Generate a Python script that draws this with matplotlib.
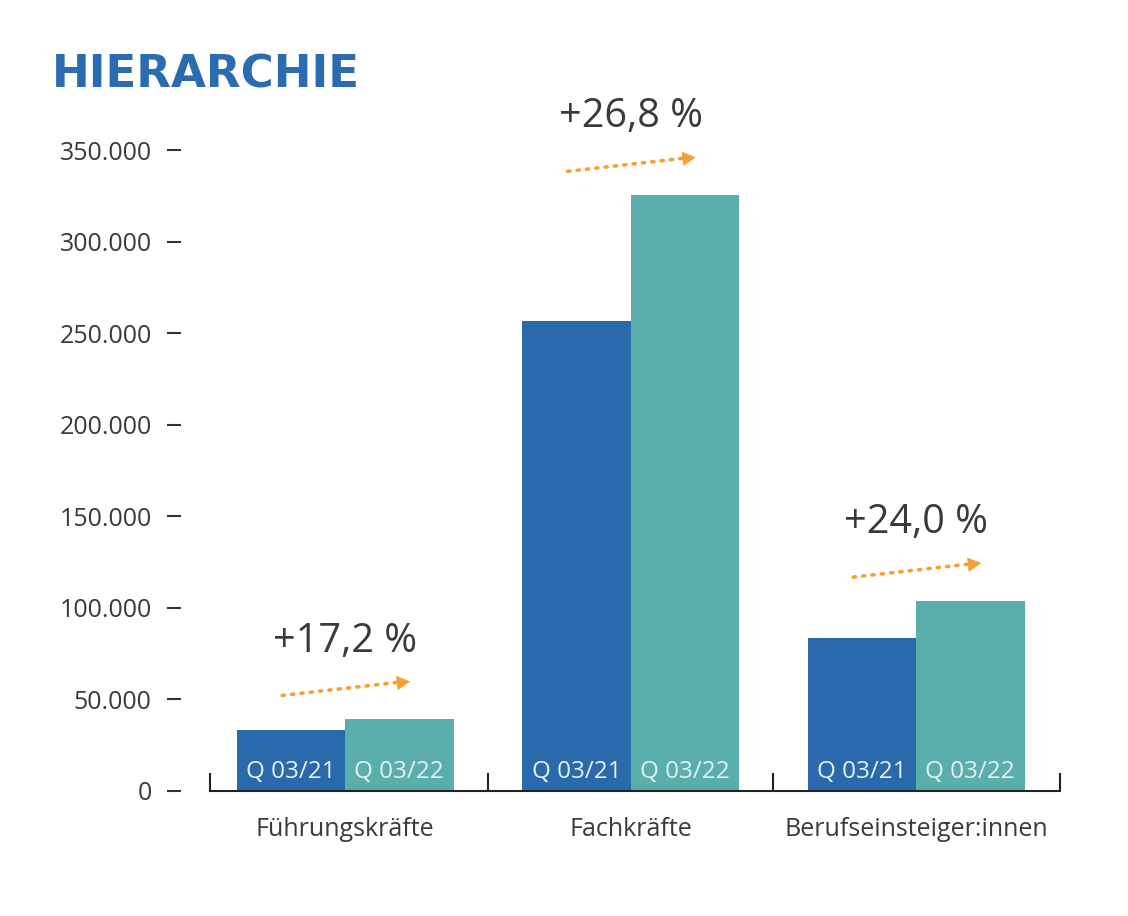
import matplotlib.pyplot as plt
import numpy as np
from matplotlib.ticker import FuncFormatter
from matplotlib.transforms import offset_copy

# data
categories = ['Führungskräfte', 'Fachkräfte', 'Berufseinsteiger:innen']
q21 = [33500, 256500, 83700]
q22 = [39300, 325500, 103900]
growth = ['+17,2 %', '+26,8 %', '+24,0 %']
series_labels = ['Q 03/21', 'Q 03/22']
yticks = [0, 50000, 100000, 150000, 200000, 250000, 300000, 350000]

blue = '#2a69ac'
teal = '#5aafac'
orange = '#f5a032'
dark = '#3a3a3a'

plt.rcParams['font.family'] = ['Open Sans', 'DejaVu Sans']

fig = plt.figure(figsize=(11.28, 9.16), dpi=100)
ax = fig.add_axes([210/1128, 1 - 791/916, 850/1128, (791 - 122.6)/916])

x = np.arange(len(categories))
w = 0.38
ax.bar(x - w/2, q21, width=w, color=blue)
ax.bar(x + w/2, q22, width=w, color=teal)

ax.set_xlim(-0.473, 2.504)
ax.set_ylim(0, 365000)

# series labels inside the bars
for i in range(len(categories)):
    for xx, lab in [(x[i] - w/2, series_labels[0]), (x[i] + w/2, series_labels[1])]:
        ax.annotate(lab, xy=(xx, 0), xytext=(0, 14), textcoords='offset points',
                    ha='center', va='center', fontsize=17.5, color='#e4f1f0')

# growth labels and dotted arrows
for i in range(len(categories)):
    top = q22[i]
    ax.annotate(growth[i], xy=(x[i], top), xytext=(0, 56), textcoords='offset points',
                ha='center', va='center', fontsize=28.5, color=dark, annotation_clip=False)
    tail_tr = offset_copy(ax.transData, fig=fig, x=0, y=17, units='points')
    head_tr = offset_copy(ax.transData, fig=fig, x=0, y=27, units='points')
    # dotted shaft
    ax.annotate('', xy=(x[i] + 0.21, top), xycoords=head_tr,
                xytext=(x[i] - 0.22, top), textcoords=tail_tr,
                arrowprops=dict(arrowstyle='-', linestyle=(0, (0.6, 2.0)), lw=2.6,
                                capstyle='round', color=orange, shrinkA=0, shrinkB=0),
                annotation_clip=False)
    # solid head
    ax.annotate('', xy=(x[i] + 0.228, top), xycoords=head_tr,
                xytext=(-7, -0.75), textcoords='offset points',
                arrowprops=dict(arrowstyle='-|>,head_length=0.55,head_width=0.3', lw=0.5,
                                color=orange, mutation_scale=16, shrinkA=0, shrinkB=0),
                annotation_clip=False)

# y axis: detached tick marks, no spine
ax.spines['left'].set_position(('outward', 21))
ax.spines['left'].set_visible(False)
ax.spines['top'].set_visible(False)
ax.spines['right'].set_visible(False)
ax.spines['bottom'].set_linewidth(1.5)
ax.spines['bottom'].set_color('#222222')
ax.set_yticks(yticks)
ax.yaxis.set_major_formatter(FuncFormatter(lambda v, p: f'{int(v):,}'.replace(',', '.')))
ax.tick_params(axis='y', direction='out', length=10, width=1.5, color='#333333',
               pad=11, labelsize=18, labelcolor=dark)

# x axis: boundary ticks pointing up, category labels as minor ticks
ax.set_xticks([-0.473, 0.5, 1.5, 2.504])
ax.set_xticklabels([])
ax.tick_params(axis='x', which='major', direction='in', length=13, width=1.5, color='#222222')
ax.set_xticks(x, categories, minor=True)
ax.tick_params(axis='x', which='minor', length=0, pad=19, labelsize=18, labelcolor=dark)

fig.text(52/1128, 1 - 87/916, 'HIERARCHIE', fontsize=32.5, fontweight='bold',
         color='#2b6bb0', family='DejaVu Sans', va='baseline')

fig.savefig('out.png', dpi=100, facecolor='white')
